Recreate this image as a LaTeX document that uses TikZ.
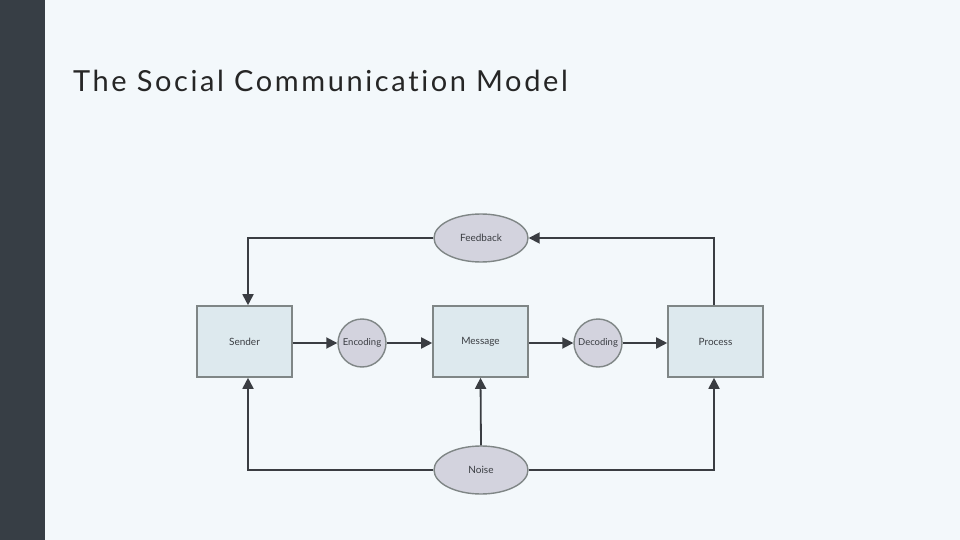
\documentclass[tikz,border=0pt]{standalone}
\usepackage{fontspec}
\setmainfont{Lato}
\usetikzlibrary{arrows.meta,shapes.geometric}
\definecolor{bg}{HTML}{F3F8FB}
\definecolor{bar}{HTML}{373E45}
\definecolor{boxf}{HTML}{DDE9EE}
\definecolor{boxd}{HTML}{7F8686}
\definecolor{ovf}{HTML}{D3D3DE}
\definecolor{ln}{HTML}{3A3D42}
\begin{document}
\begin{tikzpicture}[x=1pt,y=-1pt,
  box/.style={draw=boxd,line width=1.6pt,fill=boxf,minimum width=95pt,minimum height=71pt,inner sep=0pt,font=\fontsize{10}{11}\selectfont,text=ln},
  ov/.style={ellipse,draw=boxd,line width=1.4pt,fill=ovf,minimum width=94pt,minimum height=48pt,inner sep=0pt,font=\fontsize{10}{11}\selectfont,text=ln},
  cir/.style={circle,draw=boxd,line width=1.4pt,fill=ovf,minimum size=48pt,inner sep=0pt,font=\fontsize{9.5}{10}\selectfont,text=ln},
  ar/.style={draw=ln,line width=1.8pt,-{Triangle[width=11pt,length=11pt]}},
  pl/.style={draw=ln,line width=1.8pt}]
\useasboundingbox (0,0) rectangle (960,540);
\fill[bg] (0,0) rectangle (960,540);
\fill[bar] (0,0) rectangle (45,540);
\node[anchor=base west,inner sep=0pt,font=\fontsize{29}{31}\selectfont\addfontfeature{LetterSpace=9,Ligatures=NoCommon},text=black!85] (title) at (73,92) {The Social Communication Model};
\node[box] (sender) at (244.5,341.5) {Sender};
\node[box] (message) at (480.5,341.5) {Message};
\node[box] (process) at (715.5,341.5) {Process};
\node[cir] (enc) at (362,343) {Encoding};
\node[cir] (dec) at (598,343) {Decoding};
\node[ov] (fb) at (481,238) {Feedback};
\node[ov] (noise) at (481,470) {Noise};
\coordinate (fbl) at (248,238);
\coordinate (fbr) at (714,238);
\coordinate (nl) at (248,470);
\coordinate (nr) at (714,470);
\draw[ar] (sender.east |- enc) -- (enc.west);
\draw[ar] (enc.east) -- (message.west |- enc);
\draw[ar] (message.east |- dec) -- (dec.west);
\draw[ar] (dec.east) -- (process.west |- dec);
\draw[ar] (process.north -| fbr) -- (fbr) -- (fb.east);
\draw[ar] (fb.west) -- (fbl) -- (sender.north -| fbl);
\draw[ar] (noise.west) -- (nl) -- (sender.south -| nl);
\draw[ar] (noise.east) -- (nr) -- (process.south -| nr);
\draw[ar] (noise.north) -- (message.south);
\end{tikzpicture}
\end{document}
